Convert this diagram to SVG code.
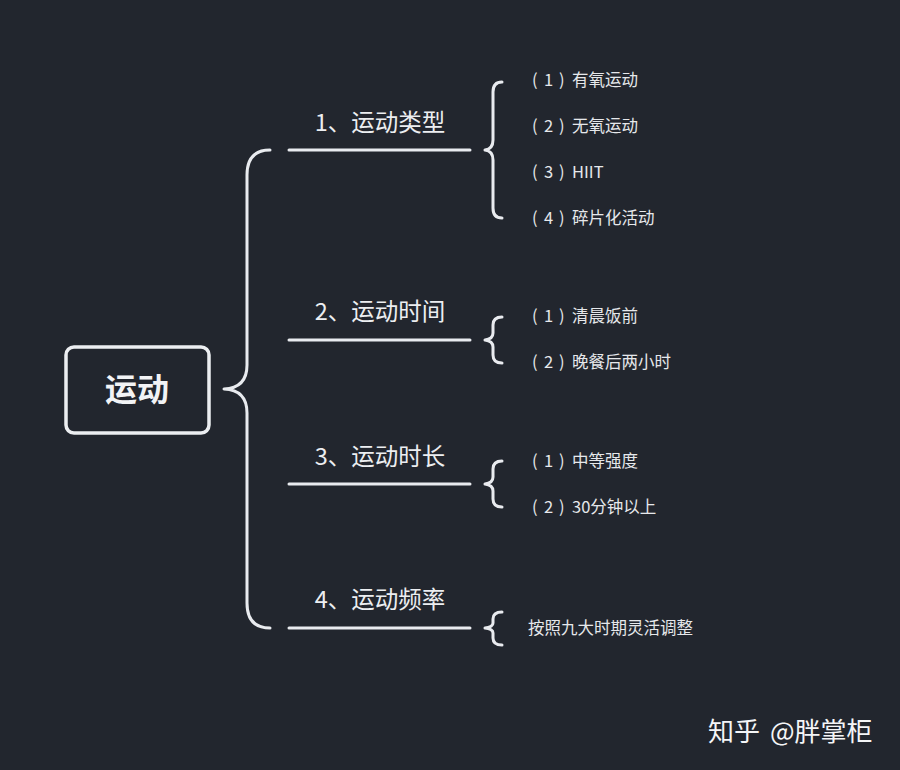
<svg xmlns="http://www.w3.org/2000/svg" width="900" height="770" viewBox="0 0 900 770">
<style>
.ln{stroke:#e9ebef;stroke-width:3;fill:none;stroke-linecap:round}
.br{stroke:#e9ebef;stroke-width:3;fill:none;stroke-linecap:round;stroke-linejoin:round}
.t1{font-family:"Noto Sans CJK SC","Noto Sans",sans-serif;font-size:23.5px;fill:#eceef1;text-anchor:middle}
.t2{font-family:"Noto Sans CJK SC","Noto Sans",sans-serif;font-size:16.5px;fill:#e6e8eb}
</style>
<rect width="900" height="770" fill="#22262e"/>
<g id="root">
<rect x="66" y="347" width="143" height="86" rx="8" fill="none" stroke="#eceef1" stroke-width="3.5"/>
<text x="137" y="401" font-family="'Noto Sans CJK SC',sans-serif" font-size="32" font-weight="bold" fill="#f2f3f5" text-anchor="middle">运动</text>
</g>
<g id="connectors">
<path class="br" d="M270,150 Q247,150 247,175 L247,365 Q247,388 224,389 Q247,390 247,413 L247,603 Q247,628 270,628"/>
<line class="ln" x1="289" y1="150" x2="470" y2="150"/>
<line class="ln" x1="289" y1="340" x2="470" y2="340"/>
<line class="ln" x1="289" y1="484" x2="470" y2="484"/>
<line class="ln" x1="289" y1="628" x2="470" y2="628"/>
<path class="br" d="M502,82 Q493,82 493,92 L493,140 Q493,149 485,150 Q493,151 493,160 L493,208 Q493,218 502,218"/>
<path class="br" d="M502,317 Q493,317 493,325 L493,333 Q493,339 485,340 Q493,341 493,347 L493,355 Q493,363 502,363"/>
<path class="br" d="M502,461 Q493,461 493,469 L493,477 Q493,483 485,484 Q493,485 493,491 L493,499 Q493,507 502,507"/>
<path class="br" d="M502,612 Q493,612 493,619 L493,623 Q493,627 485,628 Q493,629 493,633 L493,638 Q493,645 502,645"/>
</g>
<g id="n1">
<text class="t1" x="380" y="131">1、运动类型</text>
<text class="t2" y="86"><tspan x="532">(</tspan><tspan x="544">1</tspan><tspan x="559">)</tspan><tspan x="572">有氧运动</tspan></text>
<text class="t2" y="132"><tspan x="532">(</tspan><tspan x="544">2</tspan><tspan x="559">)</tspan><tspan x="572">无氧运动</tspan></text>
<text class="t2" y="178"><tspan x="532">(</tspan><tspan x="544">3</tspan><tspan x="559">)</tspan><tspan x="572">HIIT</tspan></text>
<text class="t2" y="224"><tspan x="532">(</tspan><tspan x="544">4</tspan><tspan x="559">)</tspan><tspan x="572">碎片化活动</tspan></text>
</g>
<g id="n2">
<text class="t1" x="380" y="320">2、运动时间</text>
<text class="t2" y="322"><tspan x="532">(</tspan><tspan x="544">1</tspan><tspan x="559">)</tspan><tspan x="572">清晨饭前</tspan></text>
<text class="t2" y="368"><tspan x="532">(</tspan><tspan x="544">2</tspan><tspan x="559">)</tspan><tspan x="572">晚餐后两小时</tspan></text>
</g>
<g id="n3">
<text class="t1" x="380" y="465">3、运动时长</text>
<text class="t2" y="467"><tspan x="532">(</tspan><tspan x="544">1</tspan><tspan x="559">)</tspan><tspan x="572">中等强度</tspan></text>
<text class="t2" y="513"><tspan x="532">(</tspan><tspan x="544">2</tspan><tspan x="559">)</tspan><tspan x="572">30分钟以上</tspan></text>
</g>
<g id="n4">
<text class="t1" x="380" y="608">4、运动频率</text>
<text class="t2" x="528" y="634">按照九大时期灵活调整</text>
</g>
<text x="708" y="741" font-family="'Noto Sans CJK SC',sans-serif" font-size="26" fill="#f4f5f7">知乎 <tspan x="770">@胖掌柜</tspan></text>
</svg>
